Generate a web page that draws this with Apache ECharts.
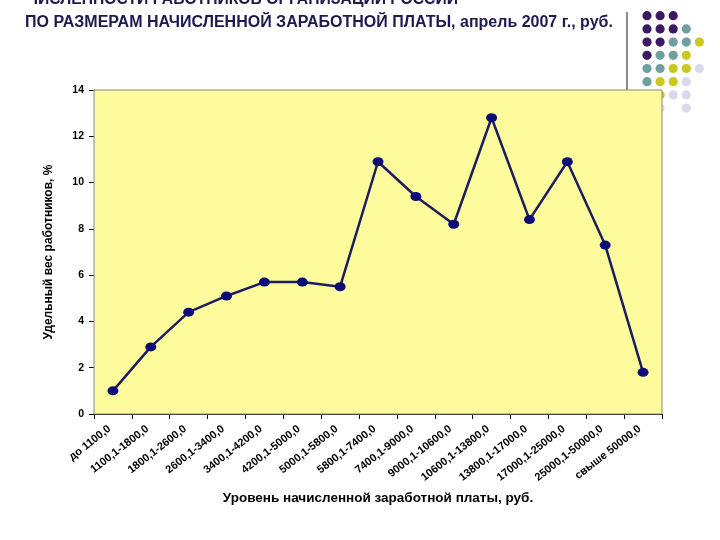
<!DOCTYPE html>
<html>
<head>
<meta charset="utf-8">
<script src="https://cdn.jsdelivr.net/npm/echarts@6/dist/echarts.min.js"></script>
<style>html,body{margin:0;padding:0;background:#fff;}#c{width:720px;height:540px;}</style>
</head>
<body>
<div id="c"></div>
<script>
var categories = ['до 1100,0','1100,1-1800,0','1800,1-2600,0','2600,1-3400,0','3400,1-4200,0','4200,1-5000,0','5000,1-5800,0','5800,1-7400,0','7400,1-9000,0','9000,1-10600,0','10600,1-13800,0','13800,1-17000,0','17000,1-25000,0','25000,1-50000,0','свыше 50000,0'];
var shares = [1.0, 2.9, 4.4, 5.1, 5.7, 5.7, 5.5, 10.9, 9.4, 8.2, 12.8, 8.4, 10.9, 7.3, 1.8];
var yTicks = [0, 2, 4, 6, 8, 10, 12, 14];
var titleLine1 = 'ЧИСЛЕННОСТИ РАБОТНИКОВ ОРГАНИЗАЦИЙ РОССИИ';
var titleLine2 = 'ПО РАЗМЕРАМ НАЧИСЛЕННОЙ ЗАРАБОТНОЙ ПЛАТЫ, апрель 2007 г., руб.';
var yTitle = 'Удельный вес работников, %';
var xTitle = 'Уровень начисленной заработной платы, руб.';

// decorative dot pattern (rows of colour codes)
var P = '#3b1a63', T = '#6f9f9f', Y = '#c9c821', L = '#d9d9ea';
var dotRows = [
  [P, P, P],
  [P, P, P, T],
  [P, P, T, T, Y],
  [P, T, T, Y],
  [T, T, Y, Y, L],
  [T, Y, Y, L],
  [null, Y, L, L],
  [null, L, null, L]
];
var dotX0 = 647, dotDX = 13.1, dotY0 = 15.7, dotDY = 13.2;
var graphics = [];
dotRows.forEach(function (row, r) {
  row.forEach(function (col, c) {
    if (!col) return;
    graphics.push({type: 'circle', z: -10, silent: true,
      shape: {cx: dotX0 + c * dotDX, cy: dotY0 + r * dotDY, r: 4.6},
      style: {fill: col}});
  });
});
graphics.push({type: 'line', z: -10, silent: true,
  shape: {x1: 627, y1: 12, x2: 627, y2: 100},
  style: {stroke: '#8c8c8c', lineWidth: 2}});
graphics.push({type: 'text', z: 5, x: 27, y: 8, silent: true,
  style: {text: titleLine1, font: 'bold 15.7px "Liberation Sans", Arial, sans-serif', fill: '#1c1a4e', textAlign: 'left', textVerticalAlign: 'bottom'}});
graphics.push({type: 'text', z: 5, x: 319, y: 23, silent: true,
  style: {text: titleLine2, font: 'bold 16px "Liberation Sans", Arial, sans-serif', fill: '#1c1a4e', textAlign: 'center', textVerticalAlign: 'middle'}});

var chart = echarts.init(document.getElementById('c'), null, {renderer: 'canvas'});
chart.setOption({
  animation: false,
  backgroundColor: '#ffffff',
  graphic: graphics,
  grid: {left: 94, right: 58, top: 90, bottom: 126, show: true, z: 1,
    backgroundColor: '#fdfb9c', borderColor: '#8a8a8a', borderWidth: 1},
  xAxis: {
    type: 'category', data: categories, boundaryGap: true,
    name: xTitle, nameLocation: 'middle', nameGap: 77, nameMoveOverlap: false,
    nameTextStyle: {fontFamily: '"Liberation Sans", Arial, sans-serif', fontWeight: 'bold', fontSize: 13.5, color: '#000'},
    axisLine: {lineStyle: {color: '#000', width: 1}},
    axisTick: {show: true, alignWithLabel: false, length: 5, lineStyle: {color: '#000'}},
    axisLabel: {rotate: 38, interval: 0, margin: 18, verticalAlign: 'bottom', fontSize: 11, fontWeight: 'bold', color: '#000', fontFamily: '"Liberation Sans", Arial, sans-serif'},
    splitLine: {show: false}
  },
  yAxis: {
    type: 'value', min: yTicks[0], max: yTicks[yTicks.length - 1], interval: 2,
    name: yTitle, nameLocation: 'middle', nameGap: 39, nameRotate: 90, nameMoveOverlap: false,
    nameTextStyle: {fontFamily: '"Liberation Sans", Arial, sans-serif', fontWeight: 'bold', fontSize: 12, color: '#000'},
    axisLine: {show: true, lineStyle: {color: '#000', width: 1}},
    axisTick: {show: true, length: 5, lineStyle: {color: '#000'}},
    axisLabel: {margin: 10, fontSize: 10.5, fontWeight: 'bold', color: '#000', fontFamily: '"Liberation Sans", Arial, sans-serif'},
    splitLine: {show: true, lineStyle: {color: '#8a8a60', width: 1}}
  },
  series: [{
    type: 'line', data: shares, z: 3,
    symbol: 'circle', symbolSize: [11, 9],
    lineStyle: {color: '#1c1c5e', width: 2.5},
    itemStyle: {color: '#0c0c78', borderColor: '#0c0c78', borderWidth: 0}
  }]
});
</script>
</body>
</html>
